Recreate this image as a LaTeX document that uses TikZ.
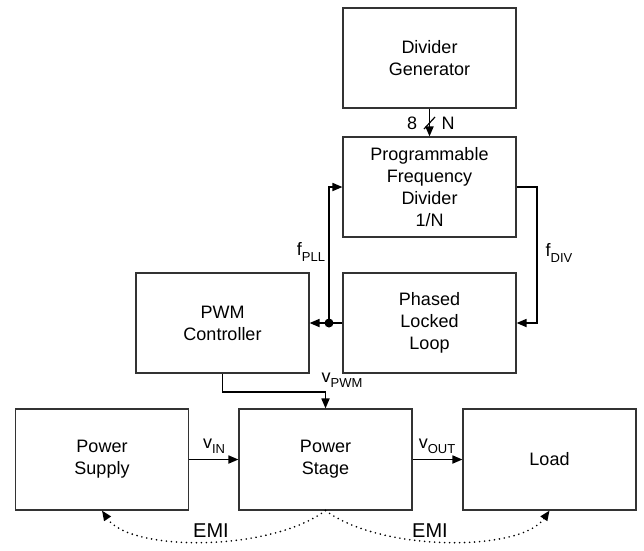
\documentclass[tikz,border=0pt]{standalone}
\usepackage{fontspec}
\setmainfont{Liberation Sans}
\usetikzlibrary{arrows.meta}

\newcommand{\sigl}[2]{#1\raisebox{-0.55ex}{\fontsize{13}{13}\selectfont #2}}

\begin{document}
\begin{tikzpicture}[x=1pt,y=-1pt,
  blk/.style={draw=black!80, line width=1.1pt, minimum width=173pt, minimum height=100pt,
              align=center, font=\fontsize{18}{22}\selectfont, inner sep=0pt},
  conn/.style={line width=1.7pt, -{Triangle[length=10pt,width=8pt]}},
  wire/.style={line width=1.7pt},
  lbl/.style={font=\fontsize{18}{22}\selectfont, inner sep=0pt},
  emilbl/.style={font=\fontsize{20}{24}\selectfont, inner sep=0pt},
  emi/.style={line width=1.8pt, dash pattern=on 0pt off 5pt, line cap=round,
              -{Triangle[length=10pt,width=8pt]}}]
\useasboundingbox (0,0) rectangle (644,550);

\node[blk] (dg)  at (429.5,58)  {Divider\\Generator};
\node[blk] (pfd) at (429.5,187) {Programmable\\Frequency\\Divider\\1/N};
\node[blk] (pll) at (429.5,323) {Phased\\Locked\\Loop};
\node[blk] (pwm) at (222.5,323) {PWM\\Controller};
\node[blk, minimum height=101pt] (sup) at (102,459.5)   {Power\\Supply};
\node[blk, minimum height=101pt] (ps)  at (325.5,459.5) {Power\\Stage};
\node[blk, minimum height=101pt] (ld)  at (549.5,459.5) {Load};

% divider generator -> PFD bus
\draw[conn] (dg.south) -- (pfd.north);
\coordinate (sl1) at (424,129);
\coordinate (sl2) at (435,117);
\draw[line width=1.2pt] (sl1) -- (sl2);
\node[lbl] (n8) at (412,123) {8};
\node[lbl] (nN) at (448,123) {N};

% PLL -> PWM with branch to PFD
\coordinate (dot) at (329,323);
\draw[wire] (pll.west) -- (dot);
\draw[conn] (dot) -- (pwm.east);
\draw[conn] (dot) |- (pfd.west);
\fill (dot) circle (4.5pt);
\node[lbl] (fpll) at (311,252) {\sigl{f}{PLL}};

% PFD -> PLL
\coordinate (r1) at (537,187);
\coordinate (r2) at (537,323);
\draw[conn] (pfd.east) -- (r1) -- (r2) -- (pll.east);
\node[lbl] (fdiv) at (559,253) {\sigl{f}{DIV}};

% PWM -> Power Stage
\coordinate (p1) at (222.5,392);
\coordinate (p2) at (325.5,392);
\draw[conn] (pwm.south) -- (p1) -- (p2) -- (ps.north);
\node[lbl] (vpwm) at (342,380) {\sigl{v}{PWM}};

% power path
\draw[conn] (sup.east) -- (ps.west);
\node[lbl] (vin) at (214,446) {\sigl{v}{IN}};
\draw[conn] (ps.east) -- (ld.west);
\node[lbl] (vout) at (437,446) {\sigl{v}{OUT}};

% EMI
\draw[emi] (ps.south) .. controls (270,552) and (130,552) .. (sup.south);
\draw[emi] (ps.south) .. controls (381,552) and (521,552) .. (ld.south);
\node[emilbl] (emi1) at (211,531) {EMI};
\node[emilbl] (emi2) at (430,531) {EMI};
\end{tikzpicture}
\end{document}
